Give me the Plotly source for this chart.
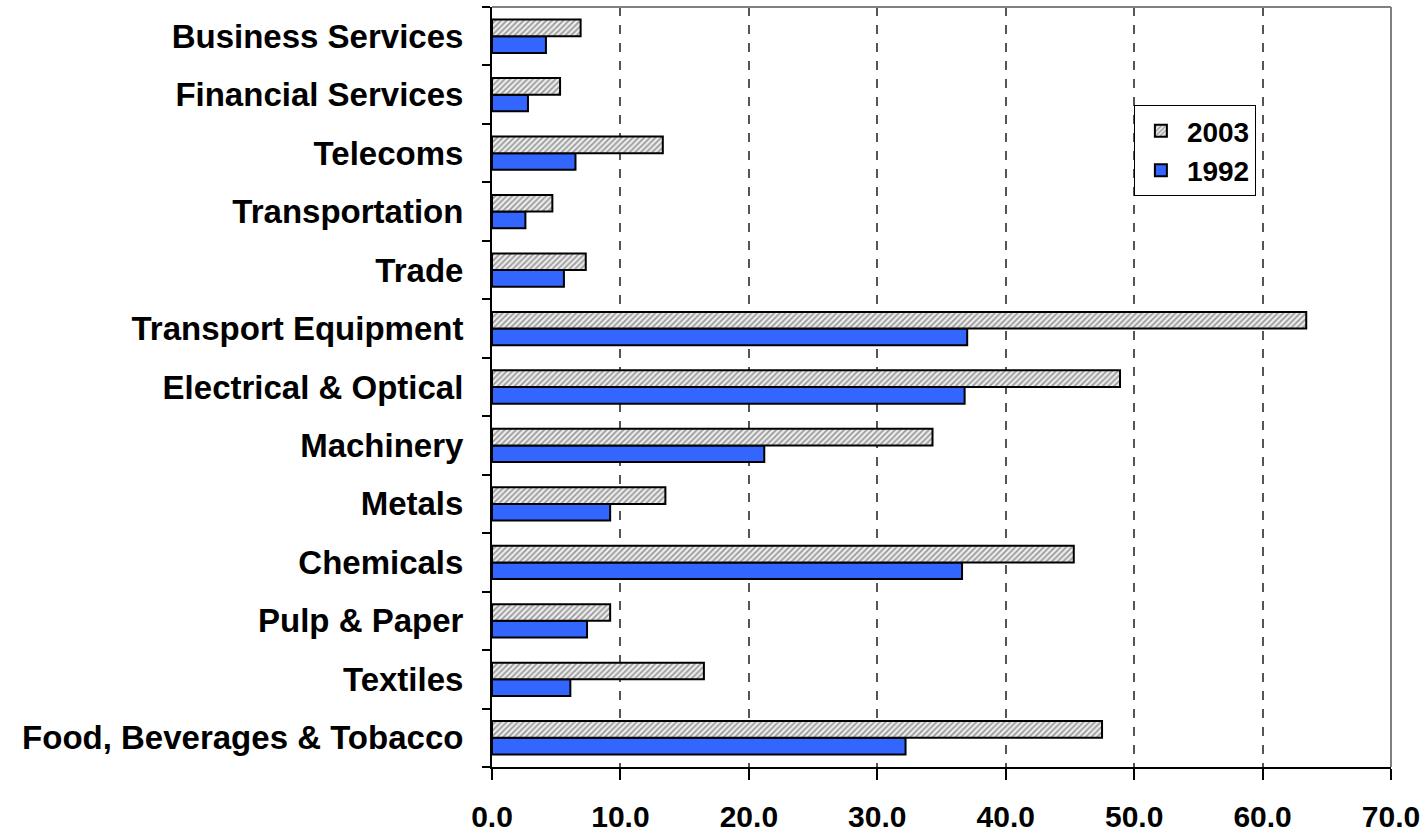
import plotly.graph_objects as go

# Categories listed bottom-to-top
categories = [
    "Food, Beverages & Tobacco", "Textiles", "Pulp & Paper", "Chemicals", "Metals",
    "Machinery", "Electrical & Optical", "Transport Equipment", "Trade",
    "Transportation", "Telecoms", "Financial Services", "Business Services",
]
values_2003 = [47.5, 16.5, 9.2, 45.3, 13.5, 34.3, 48.9, 63.4, 7.3, 4.7, 13.3, 5.3, 6.9]
values_1992 = [32.2, 6.1, 7.4, 36.6, 9.2, 21.2, 36.8, 37.0, 5.6, 2.6, 6.5, 2.8, 4.2]
x_ticks = [0, 10, 20, 30, 40, 50, 60, 70]
x_tick_labels = ["0.0", "10.0", "20.0", "30.0", "40.0", "50.0", "60.0", "70.0"]

FONT = "Liberation Sans, Arial, sans-serif"

fig = go.Figure()
fig.add_trace(go.Bar(
    y=categories, x=values_1992, name="1992", orientation="h", legendgroup="a",
    marker=dict(color="#3366FF", line=dict(color="black", width=2)),
))
fig.add_trace(go.Bar(
    y=categories, x=values_2003, name="2003", orientation="h", legendgroup="b",
    marker=dict(color="#d9d9d9", line=dict(color="black", width=2),
                pattern=dict(shape="/", size=4, solidity=0.4,
                             fgcolor="#404040", bgcolor="#ececec")),
))

fig.update_layout(
    width=1427, height=834,
    margin=dict(l=492, r=36, t=7, b=67, autoexpand=False),
    paper_bgcolor="white", plot_bgcolor="white",
    barmode="group", bargap=0.43, bargroupgap=0,
    font=dict(family=FONT, color="black"),
    showlegend=True,
    legend=dict(
        x=0.714, y=0.871, xanchor="left", yanchor="top",
        traceorder="reversed",
        bgcolor="white", bordercolor="black", borderwidth=1,
        font=dict(family=FONT, size=28, color="black", weight="bold"),
        itemsizing="constant", tracegroupgap=20, itemwidth=42,
    ),
)

fig.update_xaxes(
    range=[0, 70], tickvals=x_ticks, ticktext=x_tick_labels,
    showgrid=True, gridcolor="#555555", griddash="dash", gridwidth=1.5,
    zeroline=False, automargin=False,
    showline=True, linecolor="black", linewidth=2,
    ticks="outside", ticklen=11, tickwidth=2, tickcolor="black",
    tickfont=dict(family=FONT, size=30, color="black", weight="bold"),
    ticklabelstandoff=11,
)
fig.update_yaxes(
    type="category", categoryorder="array", categoryarray=categories,
    showgrid=False, zeroline=False, automargin=False,
    showline=True, linecolor="black", linewidth=2,
    ticks="outside", tickson="boundaries", ticklen=8, tickwidth=2, tickcolor="black",
    tickfont=dict(family=FONT, size=33, color="black", weight="bold"),
    ticklabelstandoff=20,
)

# top and right frame lines (grey)
fig.add_shape(type="line", xref="paper", yref="paper", x0=0, x1=1, y0=1, y1=1,
              line=dict(color="#808080", width=2))
fig.add_shape(type="line", xref="paper", yref="paper", x0=1, x1=1, y0=0, y1=1,
              line=dict(color="#808080", width=2))

fig.write_html(
    "out.html",
    config={"displayModeBar": False},
    post_script="document.body.style.margin='0';document.body.style.overflow='hidden';",
)
